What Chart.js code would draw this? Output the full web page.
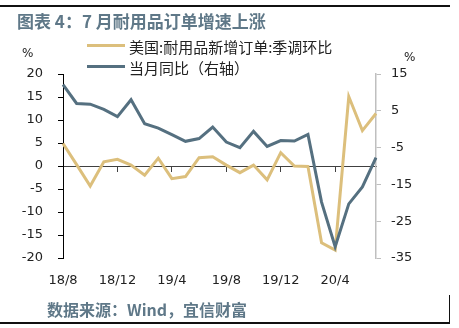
<!DOCTYPE html>
<html>
<head>
<meta charset="utf-8">
<script src="https://cdn.jsdelivr.net/npm/chart.js@4.4.1/dist/chart.umd.min.js"></script>
<style>
	html, body { margin: 0; padding: 0; background: #fff; }
	#wrap { position: relative; width: 459px; height: 328px; overflow: hidden; font-family: "Noto Sans CJK SC", sans-serif; }
	#canvaDurables { position: absolute; left: 0; top: 0; }
	.linea { position: absolute; background: #111; }
	.titulo { position: absolute; font-weight: bold; color: #5f7888; white-space: nowrap; }
	.leyenda { position: absolute; left: 129px; font-size: 15px; line-height: 15px; color: #222; white-space: nowrap; }
	.marca { position: absolute; left: 87px; width: 38px; height: 3px; }
	.pct { position: absolute; font-family: "DejaVu Sans", sans-serif; font-size: 12px; line-height: 12px; color: #222; }
</style>
</head>
<body>
<div id="wrap">
	<canvas id="canvaDurables" width="459" height="328"></canvas>
	<div class="linea" style="left:0;top:5px;width:450px;height:2px"></div>
	<div class="titulo" style="left:17px;top:12px;font-size:17px;line-height:17px">图表 4：7 月耐用品订单增速上涨</div>
	<div class="marca" style="top:44px;background:#dcbf7c"></div>
	<div class="leyenda" style="top:39px">美国:耐用品新增订单:季调环比</div>
	<div class="marca" style="top:65px;background:#557080"></div>
	<div class="leyenda" style="top:60px">当月同比（右轴）</div>
	<div class="pct" style="left:22px;top:47px">%</div>
	<div class="pct" style="left:404px;top:51px">%</div>
	<div class="titulo" style="left:47px;top:301px;font-size:16px;line-height:16px">数据来源：Wind，宜信财富</div>
	<div class="linea" style="left:0;top:322px;width:450px;height:1.5px"></div>
	<div class="linea" style="left:448.5px;top:295px;width:1.5px;height:28px"></div>
</div>
<script>
//main Data
//* Months, 18/8 to 20/7
const meses = ["18/8", "18/9", "18/10", "18/11", "18/12", "19/1", "19/2", "19/3", "19/4", "19/5", "19/6", "19/7",
	"19/8", "19/9", "19/10", "19/11", "19/12", "20/1", "20/2", "20/3", "20/4", "20/5", "20/6", "20/7"];
//* US durable goods new orders, seasonally adjusted MoM (%), left axis
const pedidosMoM = [4.9, 0.3, -4.35, 0.9, 1.45, 0.2, -2.0, 1.7, -2.75, -2.3, 1.8, 2.0,
	0.2, -1.45, 0.2, -3.0, 2.9, 0.0, -0.1, -16.7, -18.3, 15.1, 7.7, 11.4];
//* Same month YoY (%), right axis
const pedidosYoY = [12.1, 7.0, 6.8, 5.4, 3.4, 8.0, 1.5, 0.3, -1.5, -3.3, -2.55, 0.6,
	-3.5, -5.0, -0.6, -4.7, -3.1, -3.2, -1.4, -19.8, -31.9, -20.3, -15.7, -7.7];
//* Axis ranges
const rangoIzq = [-20, 20];
const rangoDer = [-35, 15];
const pasoEje = 5;
//* Show one label every 4 months
const cadaMes = 4;

//* Colors
const oro = "#dcbf7c";
const azul = "#557080";
const fuenteEje = { family: "DejaVu Sans", size: 13 };

//* Chart options
const options = {
	type: "line",
	data: {
		labels: meses,
		datasets: [
			{
				label: "美国:耐用品新增订单:季调环比",
				data: pedidosMoM,
				yAxisID: "y",
				borderColor: oro,
				borderWidth: 3,
				pointRadius: 0,
				tension: 0,
				order: 2,
			},
			{
				label: "当月同比（右轴）",
				data: pedidosYoY,
				yAxisID: "y1",
				borderColor: azul,
				borderWidth: 3,
				pointRadius: 0,
				tension: 0,
				order: 1,
			},
		],
	},
	options: {
		responsive: false,
		animation: false,
		devicePixelRatio: 1,
		layout: { padding: { top: 74, left: 0, right: 0, bottom: 0 } },
		plugins: {
			legend: { display: false },
			tooltip: { enabled: false },
		},
		scales: {
			//* Zero line with month ticks
			x: {
				type: "category",
				position: { y: 0 },
				grid: {
					drawOnChartArea: false,
					drawTicks: true,
					tickLength: 5,
					tickColor: (ctx) => (ctx.index % cadaMes === 0 ? "#404040" : "rgba(0,0,0,0)"),
				},
				border: { color: "#404040", width: 1 },
				ticks: { display: false },
			},
			//* Bottom labels
			x2: {
				type: "category",
				position: "bottom",
				grid: { display: false, drawTicks: false },
				border: { display: false },
				ticks: {
					autoSkip: false,
					maxRotation: 0,
					padding: 15,
					color: "#222",
					font: fuenteEje,
					callback: (v, i) => (i % cadaMes === 0 ? meses[i] : ""),
				},
				afterFit: (s) => {
					s.height = 70;
				},
			},
			y: {
				position: "left",
				min: rangoIzq[0],
				max: rangoIzq[1],
				grid: { drawOnChartArea: false, tickLength: 5, tickColor: "#000" },
				border: { color: "#000", width: 1 },
				ticks: { stepSize: pasoEje, padding: 15, color: "#222", font: fuenteEje },
				afterFit: (s) => {
					s.width = 63;
				},
			},
			y1: {
				position: "right",
				min: rangoDer[0],
				max: rangoDer[1],
				grid: { drawOnChartArea: false, tickLength: 5, tickColor: "#bfbfbf" },
				border: { color: "#bfbfbf", width: 1.5 },
				ticks: { stepSize: pasoEje, padding: 10, color: "#222", font: fuenteEje },
				afterFit: (s) => {
					s.width = 83;
				},
			},
		},
	},
};

//* Draw the chart
const ctx = document.getElementById("canvaDurables");
const graficaDurables = new Chart(ctx, options);
</script>
</body>
</html>
